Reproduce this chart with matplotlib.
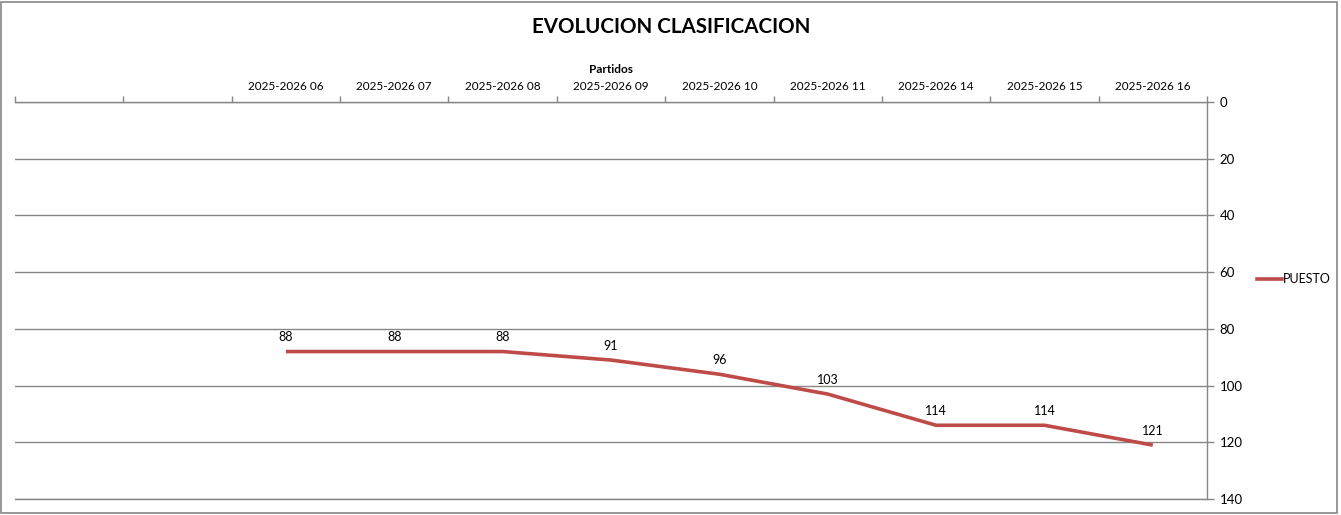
import matplotlib
matplotlib.use("Agg")
import matplotlib.pyplot as plt
from matplotlib.patches import Rectangle
from matplotlib.lines import Line2D

plt.rcParams['font.family'] = ['Lato', 'DejaVu Sans']

categories = ["", "", "2025-2026 06", "2025-2026 07", "2025-2026 08", "2025-2026 09",
              "2025-2026 10", "2025-2026 11", "2025-2026 14", "2025-2026 15", "2025-2026 16"]
puesto = [None, None, 88, 88, 88, 91, 96, 103, 114, 114, 121]
yticks = [0, 20, 40, 60, 80, 100, 120, 140]

W, H = 1341, 515
fig = plt.figure(figsize=(W / 100, H / 100), dpi=100)
ax = fig.add_axes([15 / W, (H - 499) / H, (1207 - 15) / W, (499 - 102) / H])

xs = [i for i, v in enumerate(puesto) if v is not None]
ys = [v for v in puesto if v is not None]
line_color = '#BE4B48'
ax.plot(xs, ys, color=line_color, lw=2.6, solid_capstyle='butt', zorder=3)
for x, y in zip(xs, ys):
    ax.annotate(str(y), (x, y), xytext=(0, 6), textcoords='offset points',
                ha='center', va='bottom', fontsize=9, color='black')

ax.set_xlim(-0.5, len(categories) - 0.5)
ax.set_ylim(140, 0)
ax.xaxis.tick_top()
ax.xaxis.set_label_position('top')
ax.set_xticks(range(len(categories)))
ax.set_xticklabels(categories, fontsize=8.5)
ax.set_xticks([i - 0.5 for i in range(len(categories) + 1)], minor=True)
ax.tick_params(axis='x', which='major', length=0, pad=7)
ax.tick_params(axis='x', which='minor', length=4, color='#868686', width=1, direction='out')
ax.set_xlabel('Partidos', fontsize=8.5, fontweight='bold', labelpad=6)

ax.yaxis.tick_right()
ax.set_yticks(yticks)
ax.set_yticklabels([str(v) for v in yticks], fontsize=9.5)
ax.tick_params(axis='y', length=5, color='#868686', width=1, direction='out', pad=4)
ax.grid(axis='y', color='#868686', lw=1)
ax.set_axisbelow(True)

ax.spines['left'].set_visible(False)
for s in ['top', 'right', 'bottom']:
    ax.spines[s].set_color('#868686')
    ax.spines[s].set_linewidth(1)

fig.text(671 / W, 1 - 27 / H, 'EVOLUCION CLASIFICACION', ha='center', va='center',
         fontsize=14.8, fontweight='bold')

handle = Line2D([], [], color=line_color, lw=2.6)
fig.legend([handle], ['PUESTO'], loc='center left', bbox_to_anchor=(1252 / W, 1 - 279 / H),
           frameon=False, fontsize=9, handlelength=2.0, handletextpad=0.1, borderaxespad=0)

fig.patches.append(Rectangle((1 / W, 2 / H), (W - 5) / W, (H - 4) / H, transform=fig.transFigure,
                             fill=False, edgecolor='#868686', lw=1.2))

fig.savefig('out.png', dpi=100)
